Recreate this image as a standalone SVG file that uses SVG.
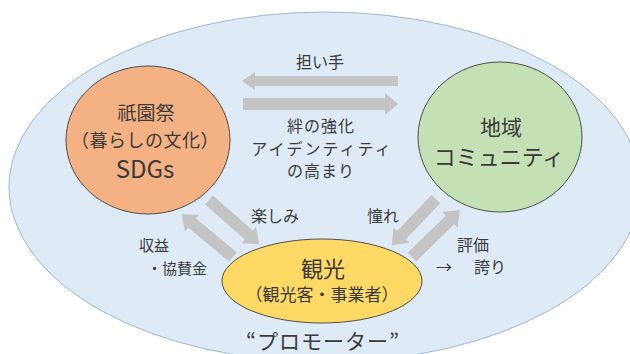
<svg xmlns="http://www.w3.org/2000/svg" width="630" height="354" viewBox="0 0 630 354">
<style>
text{font-family:"Noto Sans CJK JP","Noto Sans",sans-serif;fill:#3a3a3a;text-anchor:middle;dominant-baseline:central}
.arr{fill:#c4c4c4}
.node{stroke:#3d3d3d;stroke-width:0.9}
.lbl{font-size:16px}
</style>
<rect width="630" height="354" fill="#ffffff"/>
<g id="promoter">
<ellipse cx="325" cy="187" rx="316" ry="175" fill="#deebf7" stroke="#9fb8d6" stroke-width="1"/>
<text x="323" y="340" style="font-size:21px;letter-spacing:1px">“プロモーター”</text>
</g>
<g id="connectors">
<path class="arr" d="M398,76 L255,76 L255,72 L242,81 L255,90 L255,86 L398,86 Z"/>
<path class="arr" d="M243,98 L385,98 L385,93 L398,104 L385,115 L385,110 L243,110 Z"/>
<path class="arr" transform="translate(209,200) rotate(41.3)" d="M0,-6 L53,-6 L53,-11 L67,0 L53,11 L53,6 L0,6 Z"/>
<path class="arr" transform="translate(233,257) rotate(219.6)" d="M0,-6 L53,-6 L53,-11 L67,0 L53,11 L53,6 L0,6 Z"/>
<path class="arr" transform="translate(436,199) rotate(133.7)" d="M0,-6 L50,-6 L50,-11 L64,0 L50,11 L50,6 L0,6 Z"/>
<path class="arr" transform="translate(412,257) rotate(-44.4)" d="M0,-6 L53,-6 L53,-11 L67,0 L53,11 L53,6 L0,6 Z"/>
<text class="lbl" x="320" y="61">担い手</text>
<text class="lbl" x="321" y="125" style="letter-spacing:1px">絆の強化</text>
<text class="lbl" x="322" y="148" style="letter-spacing:2px">アイデンティティ</text>
<text class="lbl" x="321" y="170" style="letter-spacing:1px">の高まり</text>
<text class="lbl" x="275" y="215">楽しみ</text>
<text class="lbl" x="154" y="244" style="font-size:15px">収益</text>
<text class="lbl" x="177" y="267" style="font-size:15px">・協賛金</text>
<text class="lbl" x="383" y="215">憧れ</text>
<text class="lbl" x="473" y="244">評価</text>
<text class="lbl" x="444" y="266">→</text>
<text class="lbl" x="490" y="266">誇り</text>
</g>
<g id="gion">
<ellipse class="node" cx="148" cy="140" rx="82" ry="74" fill="#f4b183"/>
<text x="146" y="111" style="font-size:19px">祇園祭</text>
<text x="145" y="139" style="font-size:18px;letter-spacing:0.5px">（暮らしの文化）</text>
<text x="145" y="167" style="font-size:24px">SDGs</text>
</g>
<g id="community">
<ellipse class="node" cx="500" cy="137" rx="82" ry="75" fill="#c5e0b4"/>
<text x="501" y="126" style="font-size:21px">地域</text>
<text x="499" y="155" style="font-size:22px">コミュニティ</text>
</g>
<g id="kanko">
<ellipse class="node" cx="322" cy="281" rx="100" ry="42" fill="#ffd966"/>
<text x="323" y="267" style="font-size:22px">観光</text>
<text x="322" y="293" style="font-size:17px">（観光客・事業者）</text>
</g>
</svg>
